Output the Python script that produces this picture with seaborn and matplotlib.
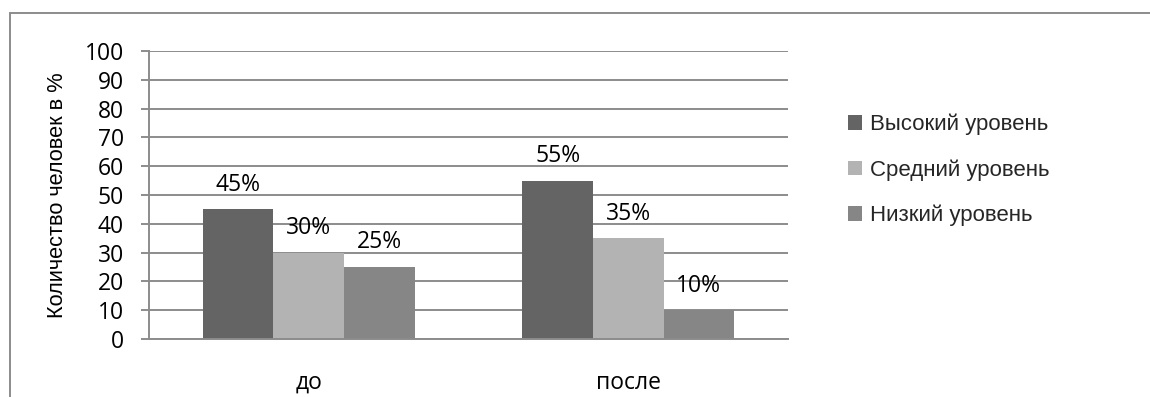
import matplotlib
matplotlib.use("Agg")
import matplotlib.pyplot as plt
from matplotlib.lines import Line2D
import seaborn as sns
import pandas as pd

categories = ["до", "после"]
series = ["Высокий уровень", "Средний уровень", "Низкий уровень"]
values_high = [45, 55]
values_mid = [30, 35]
values_low = [25, 10]
colors = ["#646464", "#b3b3b3", "#868686"]
yticks = [0, 10, 20, 30, 40, 50, 60, 70, 80, 90, 100]
ylabel = "Количество человек в %"

rows = []
for s, vals in zip(series, [values_high, values_mid, values_low]):
    for c, v in zip(categories, vals):
        rows.append({"cat": c, "series": s, "value": v})
df = pd.DataFrame(rows)

sns.set_theme(style="white")
plt.rcParams["font.family"] = ["Open Sans", "DejaVu Sans"]

fig = plt.figure(figsize=(11.5, 3.97), dpi=100)
ax = fig.add_axes([149/1150, 1 - 339/397, (788-149)/1150, (339-51)/397])

sns.barplot(data=df, x="cat", y="value", hue="series", hue_order=series,
            order=categories, palette=colors, width=0.663, gap=0,
            saturation=1, ax=ax, legend=True, linewidth=0, errorbar=None)

ax.set_ylim(0, 100)
ax.set_xlim(-0.5, 1.5)
ax.set_yticks(yticks)
ax.set_yticklabels([str(t) for t in yticks])
ax.yaxis.grid(True, color="#8c8c8c", linewidth=1.4)
ax.set_axisbelow(True)
for side in ["top", "right"]:
    ax.spines[side].set_visible(False)
for side in ["left", "bottom"]:
    ax.spines[side].set_color("#8c8c8c")
    ax.spines[side].set_linewidth(1.4)
ax.tick_params(axis="y", which="both", left=True, length=6, width=1.4,
               color="#8c8c8c", pad=12, labelsize=16.5, labelcolor="black")
ax.tick_params(axis="x", bottom=False, labelsize=16.5, pad=17, labelcolor="black")
ax.set_xlabel("")
ax.set_ylabel(ylabel, family=["Liberation Sans", "DejaVu Sans"], fontsize=15.7,
              labelpad=12, color="black")

for cont in ax.containers:
    ax.bar_label(cont, labels=[f"{int(v)}%" for v in cont.datavalues],
                 padding=9, fontsize=16.5, color="black")

handles, labels = ax.get_legend_handles_labels()
leg = ax.legend(handles, labels, loc="center left",
                bbox_to_anchor=(848/1150, 1 - 170/397),
                bbox_transform=fig.transFigure, frameon=False,
                handlelength=0.65, handleheight=0.65, handletextpad=0.32,
                labelspacing=1.08, borderaxespad=0, borderpad=0,
                prop={"family": ["Liberation Sans", "DejaVu Sans"], "size": 16})

# outer chart border (top and left)
fig.add_artist(Line2D([10/1150, 10/1150], [0, 1 - 13/397], transform=fig.transFigure,
                      color="#8c8c8c", linewidth=1.4))
fig.add_artist(Line2D([10/1150, 1], [1 - 13/397, 1 - 13/397], transform=fig.transFigure,
                      color="#8c8c8c", linewidth=1.4))

fig.savefig("out.png", dpi=100)
